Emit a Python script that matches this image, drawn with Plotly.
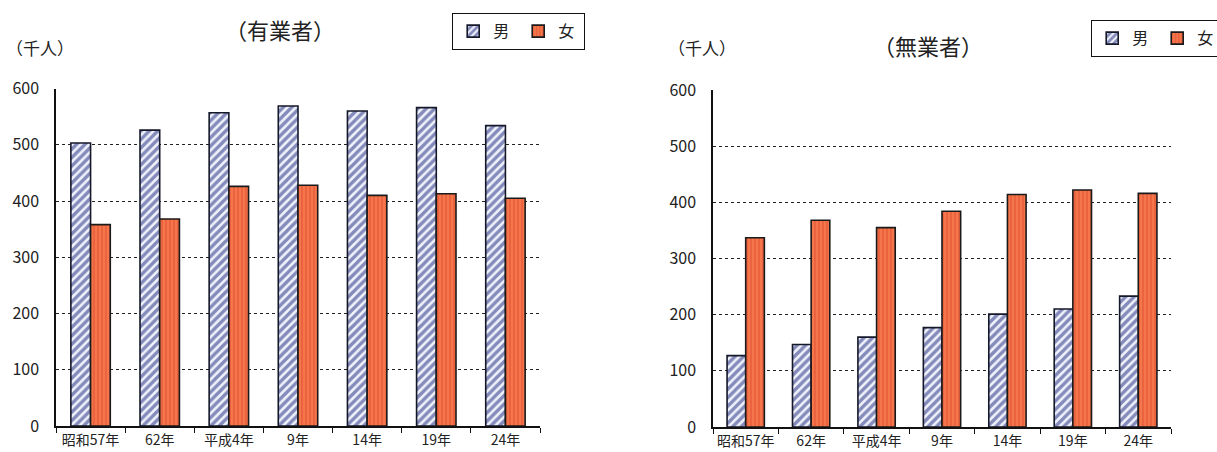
import plotly.graph_objects as go

# 年次
categories = ["昭和57年", "62年", "平成4年", "9年", "14年", "19年", "24年"]

# 有業者（千人）
employed_male = [503, 526, 557, 569, 560, 566, 534]
employed_female = [358, 368, 426, 428, 410, 413, 405]

# 無業者（千人）
nonemployed_male = [127, 147, 160, 177, 201, 210, 233]
nonemployed_female = [337, 368, 355, 384, 414, 422, 416]

y_ticks = [0, 100, 200, 300, 400, 500, 600]

W, H = 1217, 452
FONT = "Noto Sans CJK JP"


def px_x(x):
    return x / W


def px_y(y):
    return 1 - y / H


male_marker = dict(
    color="#f2f5fc",
    line=dict(color="#141828", width=1.6),
    pattern=dict(shape="/", fgcolor="#18227a", bgcolor="#f0f3fb", size=6, solidity=0.58),
)
female_marker = dict(
    color="#f0623a",
    line=dict(color="#1a1a1a", width=1.6),
    pattern=dict(shape="|", fgcolor="#d8412a", bgcolor="#f4764a", size=4, solidity=0.35),
)

fig = go.Figure()

fig.add_trace(go.Bar(x=categories, y=employed_male, name="男", marker=male_marker,
                     xaxis="x", yaxis="y", legend="legend"))
fig.add_trace(go.Bar(x=categories, y=employed_female, name="女", marker=female_marker,
                     xaxis="x", yaxis="y", legend="legend"))
fig.add_trace(go.Bar(x=categories, y=nonemployed_male, name="男", marker=male_marker,
                     xaxis="x2", yaxis="y2", legend="legend2"))
fig.add_trace(go.Bar(x=categories, y=nonemployed_female, name="女", marker=female_marker,
                     xaxis="x2", yaxis="y2", legend="legend2"))

x_common = dict(
    showline=True, linecolor="#111", linewidth=1.5,
    ticks="outside", tickson="boundaries", ticklen=5, tickcolor="#111",
    showgrid=False, zeroline=False, tickangle=0, automargin=False,
    tickfont=dict(family=FONT, size=14, color="#222"),
    ticklabelstandoff=0,
)
y_common = dict(
    range=[0, 600], tickvals=y_ticks, showline=True, linecolor="#111", linewidth=1.5,
    ticks="", showgrid=True, gridcolor="#222", griddash="dot", gridwidth=1,
    zeroline=False, automargin=False,
    tickfont=dict(family=FONT, size=16, color="#222"),
    ticklabelstandoff=12,
)

legend_common = dict(
    orientation="h", xanchor="left", yanchor="top",
    bordercolor="#111", borderwidth=1.2, bgcolor="white",
    font=dict(family=FONT, size=16), itemwidth=30, entrywidth=20,
    tracegroupgap=0,
)

fig.update_layout(
    width=W, height=H,
    margin=dict(l=0, r=0, t=0, b=0, autoexpand=False),
    paper_bgcolor="white", plot_bgcolor="white",
    barmode="group", bargap=0.43, bargroupgap=0,
    font=dict(family=FONT, color="#222"),
    xaxis=dict(domain=[px_x(56), px_x(540)], anchor="y", **x_common),
    yaxis=dict(domain=[px_y(426), px_y(88.5)], anchor="x", **y_common),
    xaxis2=dict(domain=[px_x(713), px_x(1171)], anchor="y2", **x_common),
    yaxis2=dict(domain=[px_y(427), px_y(90)], anchor="x2", **y_common),
    legend=dict(x=px_x(452), y=px_y(13), **legend_common),
    legend2=dict(x=px_x(1091), y=px_y(20), **legend_common),
    annotations=[
        dict(text="（有業者）", x=px_x(280), y=px_y(29), xref="paper", yref="paper",
             xanchor="center", yanchor="middle",
             showarrow=False, font=dict(family=FONT, size=22, color="#222")),
        dict(text="（千人）", x=px_x(40), y=px_y(47), xref="paper", yref="paper",
             xanchor="center", yanchor="middle",
             showarrow=False, font=dict(family=FONT, size=17, color="#222")),
        dict(text="（無業者）", x=px_x(928), y=px_y(45), xref="paper", yref="paper",
             xanchor="center", yanchor="middle",
             showarrow=False, font=dict(family=FONT, size=22, color="#222")),
        dict(text="（千人）", x=px_x(702), y=px_y(48), xref="paper", yref="paper",
             xanchor="center", yanchor="middle",
             showarrow=False, font=dict(family=FONT, size=17, color="#222")),
    ],
)

fig.write_html("out.html")
